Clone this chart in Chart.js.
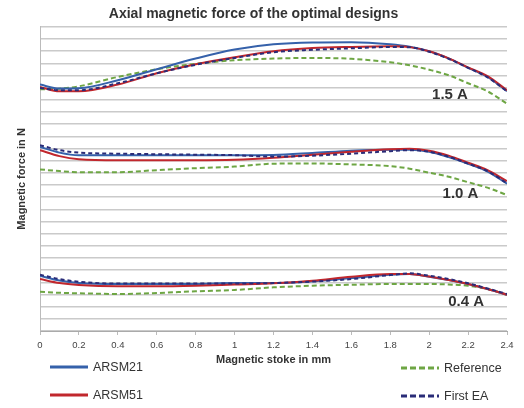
<!DOCTYPE html>
<html>
<head>
<meta charset="utf-8">
<script src="https://cdn.jsdelivr.net/npm/chart.js@4/dist/chart.umd.min.js"></script>
<style>
  html, body { margin: 0; padding: 0; background: #fff; }
  #wrap { width: 524px; height: 408px; }
</style>
</head>
<body>
<div id="wrap"><canvas id="forceChart"></canvas></div>
<script>
// stroke positions in mm
const stroke = [0, 0.1, 0.2, 0.4, 0.6, 0.8, 1.0, 1.2, 1.4, 1.6, 1.8, 1.9, 2.0, 2.1, 2.2, 2.3, 2.4];
const xTickLabels = ['0', '0.2', '0.4', '0.6', '0.8', '1', '1.2', '1.4', '1.6', '1.8', '2', '2.2', '2.4'];

// 1.5 A
const arsm21_15 = [20.25, 19.93, 19.95, 20.61, 21.51, 22.39, 23.13, 23.56, 23.71, 23.73, 23.56, 23.36, 22.99, 22.41, 21.63, 20.88, 19.70];
const arsm51_15 = [20.06, 19.70, 19.70, 20.25, 21.18, 21.92, 22.50, 22.99, 23.25, 23.35, 23.40, 23.33, 22.99, 22.41, 21.67, 20.94, 19.79];
const ref_15 = [19.87, 19.91, 20.11, 20.88, 21.51, 21.96, 22.25, 22.39, 22.44, 22.37, 22.09, 21.84, 21.47, 21.02, 20.36, 19.70, 18.68];
const firstEA_15 = [19.98, 19.79, 19.79, 20.36, 21.18, 21.88, 22.44, 22.91, 23.11, 23.23, 23.34, 23.32, 22.95, 22.37, 21.63, 20.85, 19.70];

// 1.0 A
const arsm21_10 = [15.13, 14.66, 14.45, 14.45, 14.45, 14.45, 14.45, 14.47, 14.63, 14.82, 14.90, 14.90, 14.74, 14.29, 13.75, 13.10, 12.11];
const arsm51_10 = [14.86, 14.37, 14.12, 14.04, 14.04, 14.04, 14.08, 14.24, 14.49, 14.74, 14.94, 14.98, 14.82, 14.41, 13.83, 13.22, 12.32];
const ref_10 = [13.28, 13.14, 13.05, 13.05, 13.22, 13.38, 13.51, 13.75, 13.77, 13.69, 13.55, 13.34, 13.01, 12.68, 12.23, 11.78, 11.17];
const firstEA_10 = [15.27, 14.86, 14.66, 14.57, 14.53, 14.49, 14.45, 14.33, 14.41, 14.57, 14.78, 14.86, 14.74, 14.33, 13.75, 13.14, 12.15];

// 0.4 A
const arsm21_04 = [4.54, 4.15, 3.94, 3.86, 3.86, 3.86, 3.94, 3.94, 4.08, 4.35, 4.62, 4.68, 4.46, 4.19, 3.86, 3.45, 2.98];
const arsm51_04 = [4.27, 3.94, 3.78, 3.67, 3.67, 3.72, 3.82, 3.92, 4.13, 4.46, 4.68, 4.68, 4.47, 4.19, 3.86, 3.45, 2.98];
const ref_04 = [3.23, 3.14, 3.10, 3.04, 3.12, 3.26, 3.37, 3.59, 3.72, 3.80, 3.86, 3.86, 3.86, 3.82, 3.72, 3.45, 2.98];
const firstEA_04 = [4.62, 4.27, 4.05, 3.90, 3.90, 3.90, 3.90, 3.94, 4.06, 4.27, 4.60, 4.74, 4.54, 4.27, 3.92, 3.49, 3.04];

const currentLabels = ['1.5 A', '1.0 A', '0.4 A'];
const currentLabelAt = [[2.107, 19.38], [2.161, 11.25], [2.19, 2.36]];

const BLUE = '#3561aa';
const RED = '#c1272d';
const GREEN = '#6ea644';
const NAVY = '#2a2c78';
const FONT = '"Liberation Sans", Arial, sans-serif';

const series = {
  ARSM21: { color: BLUE, dash: [], order: 2, data: [arsm21_15, arsm21_10, arsm21_04] },
  ARSM51: { color: RED, dash: [], order: 1, data: [arsm51_15, arsm51_10, arsm51_04] },
  Reference: { color: GREEN, dash: [5, 3], order: 3, data: [ref_15, ref_10, ref_04] },
  'First EA': { color: NAVY, dash: [4, 3], order: 0, data: [firstEA_15, firstEA_10, firstEA_04] }
};

const datasets = [];
Object.entries(series).forEach(([name, s]) => {
  s.data.forEach((vals, k) => {
    datasets.push({
      label: name + ' ' + currentLabels[k],
      data: vals.map((v, i) => ({ x: stroke[i], y: v })),
      borderColor: s.color,
      borderWidth: 2,
      borderDash: s.dash,
      pointRadius: 0,
      fill: false,
      cubicInterpolationMode: 'monotone',
      order: s.order
    });
  });
});

const legendItems = [
  { name: 'ARSM21', x: 50, y: 367 },
  { name: 'ARSM51', x: 50, y: 395 },
  { name: 'Reference', x: 401, y: 368 },
  { name: 'First EA', x: 401, y: 396 }
];

const extrasPlugin = {
  id: 'extras',
  afterDraw(chart) {
    const ctx = chart.ctx;
    const xs = chart.scales.x, ys = chart.scales.y;
    ctx.save();
    // current labels
    ctx.font = 'bold 15px ' + FONT;
    ctx.fillStyle = '#333';
    ctx.textAlign = 'center';
    ctx.textBaseline = 'middle';
    currentLabels.forEach((t, i) => {
      ctx.fillText(t, xs.getPixelForValue(currentLabelAt[i][0]), ys.getPixelForValue(currentLabelAt[i][1]));
    });
    // legend
    ctx.font = '12.5px ' + FONT;
    ctx.textAlign = 'left';
    legendItems.forEach(item => {
      const s = series[item.name];
      ctx.strokeStyle = s.color;
      ctx.lineWidth = 3;
      ctx.setLineDash(s.dash.length ? [6, 3] : []);
      ctx.beginPath();
      ctx.moveTo(item.x, item.y);
      ctx.lineTo(item.x + 38, item.y);
      ctx.stroke();
      ctx.fillStyle = '#333';
      ctx.fillText(item.name, item.x + 43, item.y + 1);
    });
    ctx.restore();
  }
};

new Chart(document.getElementById('forceChart').getContext('2d'), {
  type: 'line',
  data: { datasets },
  options: {
    responsive: true,
    maintainAspectRatio: false,
    animation: false,
    layout: { padding: { left: 0, right: 17, top: 0, bottom: 0 } },
    plugins: {
      legend: { display: false },
      tooltip: { enabled: false },
      title: {
        display: true,
        text: 'Axial magnetic force of the optimal designs',
        color: '#333',
        font: { family: FONT, size: 14, weight: 'bold' },
        padding: { top: 6, bottom: 4 }
      }
    },
    scales: {
      x: {
        type: 'linear',
        min: 0,
        max: 2.4,
        afterFit: s => { s.height = 77; },
        grid: { drawOnChartArea: false, drawTicks: true, tickLength: 4, color: '#bbb' },
        border: { color: '#aaa' },
        ticks: {
          stepSize: 0.2,
          padding: 5,
          maxRotation: 0,
          autoSkip: false,
          color: '#444',
          font: { family: FONT, size: 9.5 },
          callback: (v, i) => xTickLabels[i]
        },
        title: {
          display: true,
          text: 'Magnetic stoke in mm',
          color: '#333',
          font: { family: FONT, size: 11, weight: 'bold' },
          padding: { top: 0, bottom: 41 }
        }
      },
      y: {
        min: 0,
        max: 25,
        afterFit: s => { s.width = 40; },
        grid: { color: '#cacaca', lineWidth: 1.5, drawTicks: false },
        border: { color: '#bbb' },
        ticks: { stepSize: 1, display: false },
        title: {
          display: true,
          text: 'Magnetic force in N',
          color: '#333',
          font: { family: FONT, size: 11, weight: 'bold' },
          padding: { top: 15, bottom: 0 }
        }
      }
    }
  },
  plugins: [extrasPlugin]
});
</script>
</body>
</html>
